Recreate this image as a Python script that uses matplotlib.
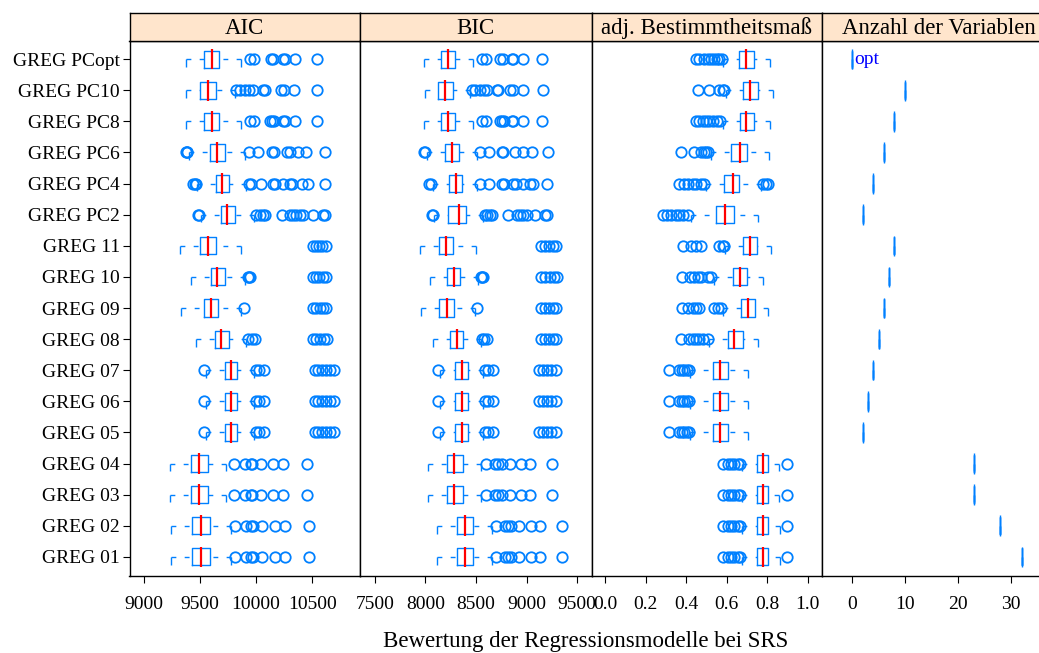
import numpy as np
import matplotlib.pyplot as plt

plt.rcParams['font.family'] = ['Liberation Serif', 'DejaVu Serif']

BLUE = '#0080ff'
STRIP = '#ffe5cc'

models = ['GREG PCopt', 'GREG PC10', 'GREG PC8', 'GREG PC6', 'GREG PC4', 'GREG PC2',
          'GREG 11', 'GREG 10', 'GREG 09', 'GREG 08', 'GREG 07', 'GREG 06',
          'GREG 05', 'GREG 04', 'GREG 03', 'GREG 02', 'GREG 01']
panels = ['AIC', 'BIC', 'adj. Bestimmtheitsmaß', 'Anzahl der Variablen']

# AIC (top row first): whisker low, q1, median, q3, whisker high, outliers
aic_lo = [9374, 9374, 9374, 9403, 9474, 9512, 9320, 9418, 9335, 9468, 9557, 9557, 9557, 9231, 9231, 9246, 9246]
aic_q1 = [9536, 9501, 9536, 9587, 9641, 9685, 9498, 9601, 9536, 9632, 9721, 9721, 9721, 9418, 9418, 9432, 9432]
aic_med = [9608, 9575, 9608, 9652, 9699, 9744, 9572, 9655, 9596, 9690, 9774, 9774, 9774, 9489, 9489, 9507, 9507]
aic_q3 = [9670, 9641, 9670, 9720, 9759, 9815, 9646, 9721, 9661, 9756, 9833, 9833, 9833, 9572, 9572, 9587, 9587]
aic_hi = [9863, 9815, 9863, 9899, 9913, 9981, 9863, 9904, 9868, 9913, 9981, 9981, 9981, 9735, 9735, 9774, 9774]
aic_out = [
    [9943, 9981, 10130, 10150, 10239, 10254, 10343, 10542],
    [9824, 9854, 9899, 9934, 9972, 10061, 10082, 10224, 10246, 10335, 10542],
    [9943, 9981, 10121, 10142, 10157, 10239, 10254, 10343, 10542],
    [9372, 9381, 9385, 9937, 10017, 10142, 10157, 10278, 10299, 10373, 10447, 10610],
    [9439, 9456, 9465, 9934, 9952, 10046, 10150, 10171, 10239, 10299, 10319, 10408, 10462, 10610],
    [9483, 9496, 10002, 10032, 10061, 10077, 10230, 10299, 10328, 10358, 10388, 10417, 10506, 10595, 10610],
    [10506, 10533, 10560, 10586, 10622],
    [9928, 9941, 9950, 10506, 10533, 10560, 10595, 10622],
    [9890, 10506, 10533, 10568, 10595, 10622],
    [9928, 9964, 9988, 10506, 10533, 10568, 10604, 10630],
    [9536, 9996, 10023, 10070, 10524, 10551, 10586, 10622, 10657, 10693],
    [9536, 9996, 10023, 10070, 10524, 10551, 10586, 10622, 10657, 10693],
    [9536, 9996, 10023, 10070, 10524, 10551, 10586, 10622, 10657, 10693],
    [9803, 9899, 9952, 9964, 10041, 10150, 10239, 10456],
    [9803, 9899, 9952, 9964, 10041, 10150, 10239, 10456],
    [9815, 9913, 9957, 9972, 10052, 10166, 10254, 10468],
    [9815, 9913, 9957, 9972, 10052, 10166, 10254, 10468],
]

# BIC
bic_lo = [7990, 7997, 7990, 8013, 8073, 8085, 7947, 8046, 7957, 8079, 8145, 8145, 8145, 8029, 8029, 8118, 8118]
bic_q1 = [8152, 8128, 8152, 8194, 8236, 8227, 8138, 8217, 8138, 8243, 8293, 8293, 8293, 8211, 8211, 8315, 8315]
bic_med = [8221, 8197, 8221, 8260, 8300, 8332, 8204, 8286, 8217, 8309, 8359, 8359, 8359, 8286, 8286, 8391, 8391]
bic_q3 = [8293, 8270, 8293, 8329, 8359, 8401, 8276, 8342, 8283, 8375, 8424, 8424, 8424, 8369, 8369, 8467, 8467]
bic_hi = [8473, 8441, 8473, 8507, 8513, 8572, 8500, 8523, 8490, 8546, 8566, 8566, 8566, 8546, 8546, 8655, 8655]
bic_out = [
    [8556, 8599, 8737, 8764, 8852, 8868, 8961, 9155],
    [8458, 8490, 8540, 8579, 8606, 8704, 8720, 8836, 8862, 8961, 9164],
    [8556, 8599, 8737, 8754, 8777, 8852, 8868, 8961, 9155],
    [7987, 8000, 8540, 8631, 8754, 8770, 8885, 8967, 9050, 9214],
    [8039, 8056, 8540, 8631, 8754, 8777, 8868, 8895, 8967, 9033, 9066, 9204],
    [8063, 8076, 8589, 8612, 8638, 8655, 8819, 8902, 8934, 8967, 9000, 9082, 9181, 9204],
    [9142, 9182, 9221, 9260, 9290],
    [8546, 8559, 8569, 9142, 9182, 9231, 9270, 9300],
    [8507, 9142, 9182, 9221, 9260, 9290],
    [8556, 8579, 8606, 9142, 9182, 9221, 9260, 9290],
    [8128, 8589, 8622, 8665, 9122, 9161, 9201, 9240, 9290],
    [8128, 8589, 8622, 8665, 9122, 9161, 9201, 9240, 9290],
    [8128, 8589, 8622, 8665, 9122, 9161, 9201, 9240, 9290],
    [8599, 8688, 8720, 8754, 8836, 8941, 9033, 9247],
    [8599, 8688, 8720, 8754, 8836, 8941, 9033, 9247],
    [8697, 8786, 8819, 8843, 8928, 9040, 9132, 9352],
    [8697, 8786, 8819, 8843, 8928, 9040, 9132, 9352],
]

# adjusted R^2
r2_lo = [0.580, 0.597, 0.580, 0.523, 0.498, 0.424, 0.592, 0.539, 0.581, 0.515, 0.421, 0.421, 0.421, 0.675, 0.675, 0.675, 0.675]
r2_q1 = [0.663, 0.682, 0.668, 0.622, 0.589, 0.548, 0.679, 0.630, 0.671, 0.605, 0.531, 0.531, 0.531, 0.750, 0.750, 0.750, 0.750]
r2_med = [0.696, 0.715, 0.697, 0.666, 0.630, 0.594, 0.717, 0.666, 0.704, 0.638, 0.567, 0.567, 0.567, 0.778, 0.778, 0.780, 0.780]
r2_q3 = [0.734, 0.753, 0.734, 0.701, 0.663, 0.638, 0.750, 0.701, 0.740, 0.679, 0.605, 0.605, 0.605, 0.803, 0.803, 0.803, 0.803]
r2_hi = [0.815, 0.827, 0.814, 0.811, 0.770, 0.753, 0.819, 0.778, 0.803, 0.753, 0.707, 0.707, 0.707, 0.860, 0.860, 0.862, 0.862]
r2_out = [
    [0.449, 0.465, 0.490, 0.507, 0.523, 0.539, 0.553, 0.564, 0.576],
    [0.457, 0.515, 0.564, 0.581, 0.589],
    [0.449, 0.465, 0.482, 0.498, 0.515, 0.531, 0.553, 0.569],
    [0.375, 0.441, 0.474, 0.490, 0.498, 0.507],
    [0.367, 0.391, 0.411, 0.433, 0.449, 0.474, 0.490, 0.778, 0.794, 0.803],
    [0.285, 0.306, 0.326, 0.350, 0.367, 0.383, 0.408],
    [0.383, 0.424, 0.449, 0.474, 0.564, 0.581, 0.589],
    [0.378, 0.421, 0.441, 0.457, 0.474, 0.507, 0.523],
    [0.378, 0.408, 0.433, 0.449, 0.465, 0.539, 0.556, 0.572],
    [0.375, 0.416, 0.433, 0.449, 0.465, 0.482, 0.507],
    [0.314, 0.367, 0.378, 0.391, 0.405, 0.416],
    [0.314, 0.367, 0.378, 0.391, 0.405, 0.416],
    [0.314, 0.367, 0.378, 0.391, 0.405, 0.416],
    [0.581, 0.605, 0.622, 0.638, 0.655, 0.666, 0.898],
    [0.581, 0.605, 0.622, 0.638, 0.655, 0.666, 0.898],
    [0.581, 0.605, 0.622, 0.638, 0.655, 0.666, 0.898],
    [0.581, 0.605, 0.622, 0.638, 0.655, 0.666, 0.898],
]

# number of variables per model (constant)
nvars = [0, 10, 8, 6, 4, 2, 8, 7, 6, 5, 4, 3, 2, 23, 23, 28, 32]

xticks = [[9000, 9500, 10000, 10500],
          [7500, 8000, 8500, 9000, 9500],
          [0.0, 0.2, 0.4, 0.6, 0.8, 1.0],
          [0, 10, 20, 30]]
xticklabels = [['9000', '9500', '10000', '10500'],
               ['7500', '8000', '8500', '9000', '9500'],
               ['0.0', '0.2', '0.4', '0.6', '0.8', '1.0'],
               ['0', '10', '20', '30']]
xlims = [(8873.7, 10924.4), (7354.9, 9640.2), (-0.0666, 1.0705), (-5.66, 38.3)]


def make_stats(lo, q1, med, q3, hi, out):
    return [dict(whislo=a, q1=b, med=c, q3=d, whishi=e, fliers=f)
            for a, b, c, d, e, f in zip(lo, q1, med, q3, hi, out)]


def draw_panel(ax, stats, medcolor='red', medlw=1.6):
    pos = np.arange(len(stats), 0, -1)
    bp = ax.bxp(stats, positions=pos, widths=0.55, orientation='horizontal',
                showcaps=False, manage_ticks=False,
                boxprops=dict(color=BLUE, lw=1),
                whiskerprops=dict(color=BLUE, lw=1, linestyle=(0, (3.5, 6))),
                medianprops=dict(color=medcolor, lw=medlw),
                flierprops=dict(marker='o', mfc='none', mec=BLUE, ms=7.5, mew=1.3))
    # lattice draws the dashed whiskers from the end towards the box
    for w in bp['whiskers']:
        w.set_data(w.get_xdata()[::-1], w.get_ydata()[::-1])
    for m in bp['medians']:
        y = np.asarray(m.get_ydata(), dtype=float)
        c = y.mean()
        m.set_ydata(c + (y - c) * 1.2)
    for p, s in zip(pos, stats):
        ax.vlines([s['whislo'], s['whishi']], p - 0.25, p, color=BLUE, lw=1)


W, H = 1039, 653
edges = [129.5, 360, 591.5, 822, 1055]
top, bottom, strip_top = 40.5, 575.5, 13

fig = plt.figure(figsize=(W / 100, H / 100), dpi=100)

all_stats = [make_stats(aic_lo, aic_q1, aic_med, aic_q3, aic_hi, aic_out),
             make_stats(bic_lo, bic_q1, bic_med, bic_q3, bic_hi, bic_out),
             make_stats(r2_lo, r2_q1, r2_med, r2_q3, r2_hi, r2_out),
             make_stats(nvars, nvars, nvars, nvars, nvars, [[] for _ in nvars])]

for i in range(4):
    l, r = edges[i], edges[i + 1]
    ax = fig.add_axes([l / W, 1 - bottom / H, (r - l) / W, (bottom - top) / H])
    if i < 3:
        draw_panel(ax, all_stats[i])
    else:
        draw_panel(ax, all_stats[i], medcolor=BLUE, medlw=1)
    ax.set_xlim(*xlims[i])
    ax.set_ylim(0.4, len(models) + 0.6)
    ax.set_xticks(xticks[i])
    ax.set_xticklabels(xticklabels[i])
    ax.tick_params(axis='x', direction='out', length=5, width=0.8, labelsize=14, pad=10, top=False)
    if i == 0:
        ax.set_yticks(np.arange(len(models), 0, -1))
        ax.set_yticklabels(models)
        ax.tick_params(axis='y', direction='out', length=5, width=0.8, labelsize=14, pad=2)
    else:
        ax.set_yticks([])
    for sp in ax.spines.values():
        sp.set_linewidth(1.0)
    if i == 3:
        ax.text(0.5, len(models), 'opt', color='blue', fontsize=14, va='center', ha='left')

    # strip on top of the panel
    sax = fig.add_axes([l / W, 1 - top / H, (r - l) / W, (top - strip_top) / H])
    sax.set_facecolor(STRIP)
    sax.set_xticks([])
    sax.set_yticks([])
    for sp in sax.spines.values():
        sp.set_linewidth(1.0)
    sax.text(0.5, 0.45, panels[i], ha='center', va='center', fontsize=16.5, transform=sax.transAxes)

fig.text(586 / W, 1 - 642 / H, 'Bewertung der Regressionsmodelle bei SRS',
         ha='center', va='center', fontsize=16.5)

fig.savefig('out.png', dpi=100)
